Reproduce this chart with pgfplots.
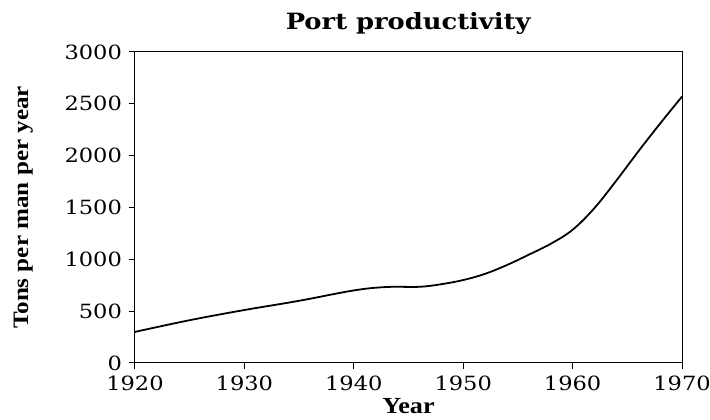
\documentclass[border=0pt]{standalone}
\usepackage{pgfplots}
\pgfplotsset{compat=1.18}
\usepackage{fontspec}
\setmainfont[FakeStretch=1.15]{DejaVu Serif}
\newfontfamily\labfont[FakeStretch=1.14]{Liberation Serif}
\usetikzlibrary{calc}
\begin{document}
\begin{tikzpicture}
\begin{axis}[
  scale only axis,
  width=273.5pt, height=155.5pt,
  xmin=1920, xmax=1970, ymin=0, ymax=3000,
  xtick={1920,1930,...,1970},
  ytick={0,500,...,3000},
  axis x line*=bottom, axis y line*=left,
  tick align=outside,
  major tick length=3pt,
  tick style={black, line width=0.5pt},
  axis line style={line width=0.5pt},
  /pgf/number format/assume math mode=true,
  /pgf/number format/1000 sep={},
  tick label style={font=\fontsize{9.8}{11}\selectfont},
  title={\textbf{Port productivity}},
  title style={font=\fontsize{11.2}{13}\selectfont, yshift=-1pt},
  xlabel={\textbf{Year}},
  ylabel={\textbf{Tons per man per year}},
  xlabel style={font=\labfont\fontsize{11.5}{13}\selectfont, yshift=3pt},
  ylabel style={font=\labfont\fontsize{11}{13}\selectfont, yshift=9pt},
  clip=false,
]
\addplot[black, line width=0.9pt, smooth, tension=0.6] coordinates {
(1920,300) (1925,413) (1930,511) (1935,600) (1940,700) (1943,733) (1946,735)
(1948,760) (1950,800) (1952,860) (1954,945) (1956,1045) (1958,1150) (1960,1285)
(1962,1495) (1964,1760) (1966,2040) (1968,2310) (1970,2570)};
\draw[line width=0.5pt] (rel axis cs:0,1) -- (rel axis cs:1,1) -- (rel axis cs:1,0);
\coordinate (bl) at (rel axis cs:0,0);
\coordinate (tr) at (rel axis cs:1,1);
\end{axis}
\pgfresetboundingbox
\path ($(bl)+(-67.5pt,-28.5pt)$) rectangle ($(tr)+(14pt,26pt)$);
\end{tikzpicture}
\end{document}
